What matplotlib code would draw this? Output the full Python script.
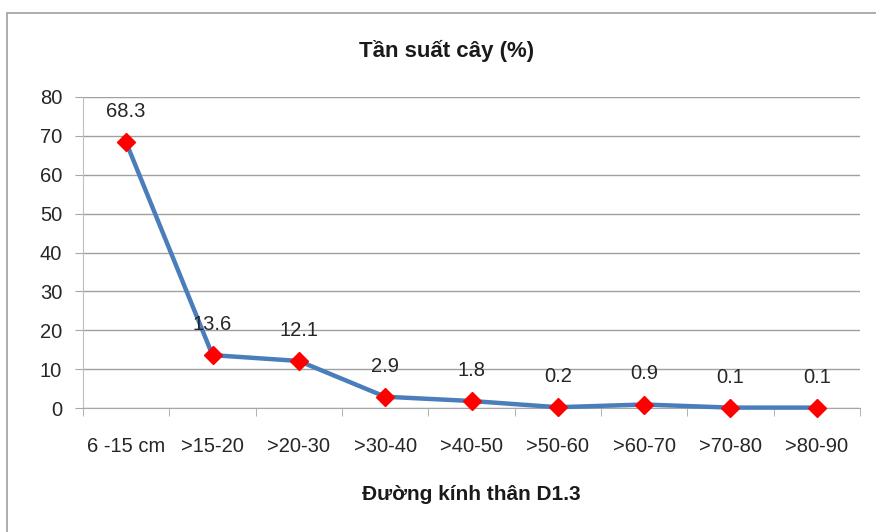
import matplotlib
matplotlib.use("Agg")
import matplotlib.pyplot as plt
from matplotlib.patches import Rectangle

categories = ["6 -15 cm", ">15-20", ">20-30", ">30-40", ">40-50", ">50-60", ">60-70", ">70-80", ">80-90"]
values = [68.3, 13.6, 12.1, 2.9, 1.8, 0.2, 0.9, 0.1, 0.1]
labels = ["68.3", "13.6", "12.1", "2.9", "1.8", "0.2", "0.9", "0.1", "0.1"]
yticks = [0, 10, 20, 30, 40, 50, 60, 70, 80]

plt.rcParams['font.family'] = ['Liberation Sans', 'DejaVu Sans']

fig = plt.figure(figsize=(8.76, 5.32), dpi=100)
fig.patches.append(Rectangle((7/876, -0.1), 1.2, (532-13)/532 + 0.1, transform=fig.transFigure,
                             fill=False, edgecolor='#A0A0A0', linewidth=1.2))
ax = fig.add_axes([83/876, 1-408/532, (860-83)/876, (408-97)/532])

x = list(range(len(categories)))
ax.plot(x, values, color='#4A7EBB', linewidth=3.2, marker='D', markersize=9,
        markerfacecolor='#FF0000', markeredgecolor='#FF0000', zorder=3, clip_on=False)
for xi, v, lab in zip(x, values, labels):
    ax.annotate(lab, (xi, v), xytext=(0, 22), textcoords='offset points', ha='center', va='center',
                fontsize=14.5, color='#262626')

ax.set_xlim(-0.5, len(categories) - 0.5)
ax.set_ylim(0, 80)
ax.set_yticks(yticks)
ax.set_yticklabels([str(t) for t in yticks], fontsize=14.5)
ax.set_xticks(x)
ax.set_xticklabels(categories, fontsize=14.5)
ax.set_xticks([i - 0.5 for i in range(len(categories) + 1)], minor=True)
ax.tick_params(axis='x', which='major', length=0, pad=21, colors='#262626')
ax.tick_params(axis='x', which='minor', length=6, color='#A6A6A6', direction='out')
ax.tick_params(axis='y', length=6, color='#A6A6A6', pad=9, colors='#262626')
ax.grid(axis='y', color='#A0A0A0', linewidth=1.0)
ax.set_axisbelow(True)
for s in ['top', 'right']:
    ax.spines[s].set_visible(False)
ax.spines['left'].set_color('#BFBFBF')
ax.spines['bottom'].set_color('#A6A6A6')

fig.text(447/876, 1-51/532, "Tần suất cây (%)", ha='center', va='center', fontsize=16, fontweight='bold', color='#1A1A1A')
fig.text(471/876, 1-495/532, "Đường kính thân D1.3", ha='center', va='center', fontsize=15, fontweight='bold', color='#1A1A1A')

fig.savefig("out.png", dpi=100)
